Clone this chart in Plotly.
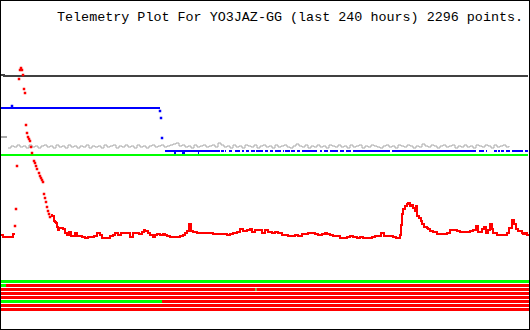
import plotly.graph_objects as go

# ---------------- data ----------------
TITLE = "Telemetry Plot For YO3JAZ-GG (last 240 hours) 2296 points."
N_BINS = 530          # time bins across the 240 h window

# dark-gray channel
dark_bin = [1, 3, 4, 528]
dark_val = [255, 255, 254, 254]

# blue channel: first level, transition samples, then patchy lower level
blue_hi_bin = [1, 160]
blue_hi_val = [222, 222]
blue_pts_bin = [12, 160, 161, 162]
blue_pts_val = [224, 219, 212, 192]
blue_lo_val = 179
blue_lo_segments = [(165, 220), (221, 224), (225, 226), (229, 232), (235, 240), (242, 244),
                    (246, 249), (251, 255), (256, 263), (265, 268), (270, 273), (275, 281),
                    (283, 284), (285, 290), (291, 295), (297, 300), (302, 317), (320, 322),
                    (324, 328), (330, 338), (340, 344), (346, 351), (353, 390), (392, 476),
                    (479, 484), (486, 487), (494, 497), (498, 500), (501, 504), (506, 510),
                    (512, 523), (525, 528)]
blue_dip_val = 177
blue_dip_segments = [(174, 176), (182, 185), (198, 199)]

# gray channel
gray_start_bin = [1, 7]
gray_start_val = [193, 193]
gray_bin = list(range(8, 529, 3))
gray_val = [182, 184, 183, 185, 183, 184, 182, 185, 183, 184,
            182, 184, 185, 183, 184, 182, 185, 183, 184, 182,
            185, 183, 184, 182, 184, 183, 185, 182, 184, 183,
            184, 182, 185, 183, 184, 185, 182, 184, 183, 185,
            183, 184, 182, 185, 183, 184, 182, 184, 185, 183,
            184, 185, 183, 184, 185, 186, 187, 184, 185, 183,
            184, 182, 185, 183, 184, 185, 183, 184, 185, 183,
            187, 185, 183, 184, 182, 185, 183, 184, 182, 185,
            184, 183, 185, 182, 184, 185, 183, 184, 182, 185,
            183, 184, 185, 183, 182, 184, 186, 184, 183, 185,
            182, 184, 183, 185, 183, 184, 182, 185, 184, 183,
            185, 183, 184, 182, 185, 183, 184, 185, 182, 184,
            183, 185, 184, 183, 182, 184, 185, 183, 184, 182,
            185, 184, 183, 185, 184, 182, 184, 183, 186, 184,
            183, 185, 184, 182, 184, 185, 183, 184, 185, 182,
            184, 183, 185, 183, 184, 182, 185, 184, 183, 185,
            184, 182, 185, 183, 184, 185, 183, 184]

# green channel
green_bin = [1, 528]
green_val = [175, 175]

# red channel: early flat part, sparse spike samples, continuous remainder
red_a_bin = [1, 3, 6, 9, 12, 13, 14]
red_a_val = [95, 93, 93, 93, 93, 96, 95]
red_spike_bin = [15, 16, 17, 19, 20, 21, 22, 23, 24, 25, 26, 27, 28, 29, 30, 31, 32, 34, 35,
                 36, 37, 39, 40, 41, 42, 43, 44, 45, 46, 47, 48, 49, 50]
red_spike_val = [104, 121, 164, 251, 260, 262, 260, 255, 241, 237, 205, 197, 193, 191, 189,
                 183, 177, 169, 167, 164, 161, 157, 154, 152, 150, 148, 136, 132, 128, 123,
                 119, 116, 113]
red_b_bin = [51, 52, 54, 55, 56, 57, 58, 59, 61, 63, 65, 67, 69, 71, 73, 75, 77, 80, 82, 85,
             88, 91, 94, 97, 100, 102, 105, 107, 110, 113, 115, 118, 121, 124, 127, 130, 133,
             136, 139, 142, 144, 145, 148, 150, 153, 155, 157, 160, 163, 165, 167, 170, 173,
             176, 178, 180, 183, 185, 187, 189, 191, 193, 197, 200, 203, 207, 210, 213, 218,
             223, 227, 230, 233, 237, 240, 243, 247, 250, 252, 255, 258, 262, 265, 268, 272,
             275, 278, 282, 285, 288, 292, 295, 298, 302, 305, 308, 312, 315, 318, 322, 325,
             327, 330, 333, 337, 340, 343, 347, 350, 353, 357, 360, 363, 366, 369, 372, 375,
             378, 381, 384, 387, 390, 393, 396, 398, 400, 401, 402, 403, 405, 407, 408, 410,
             412, 413, 415, 416, 417, 419, 421, 422, 424, 427, 428, 430, 433, 437, 440, 443,
             447, 450, 453, 457, 460, 463, 467, 470, 473, 476, 478, 482, 484, 486, 488, 490,
             492, 493, 497, 500, 503, 507, 509, 512, 514, 516, 518, 522, 523, 525, 527, 528]
red_b_val = [115, 114, 109, 108, 107, 103, 100, 102, 102, 101, 97, 95, 98, 94, 94, 97, 94, 94,
             93, 92, 93, 93, 94, 97, 95, 92, 92, 92, 94, 95, 97, 95, 97, 97, 97, 93, 97, 97,
             96, 98, 100, 99, 97, 95, 93, 95, 96, 95, 96, 95, 94, 93, 93, 93, 93, 94, 95, 97,
             99, 106, 99, 98, 97, 97, 97, 97, 97, 96, 96, 96, 95, 96, 97, 98, 101, 99, 100,
             101, 98, 100, 100, 97, 100, 98, 97, 98, 97, 95, 95, 94, 94, 95, 94, 96, 96, 97,
             97, 96, 95, 96, 97, 96, 95, 94, 94, 92, 92, 93, 94, 93, 92, 93, 92, 92, 92, 93,
             94, 94, 97, 94, 94, 94, 93, 92, 92, 95, 105, 116, 121, 124, 126, 127, 124, 125,
             122, 119, 124, 114, 112, 109, 106, 103, 102, 101, 99, 98, 96, 96, 96, 97, 100,
             100, 99, 98, 98, 98, 99, 100, 104, 98, 101, 103, 97, 100, 106, 101, 97, 95, 95,
             95, 97, 102, 110, 106, 101, 99, 97, 96, 97, 95, 94]

# digital bits: per row, segments (start_bin, end_bin, state)
bit_rows = [
    [(1, 529, 1)],
    [(1, 6, 1), (6, 529, 0)],
    [(1, 255.5, 0), (255.5, 256.5, 1), (256.5, 529, 0)],
    [(1, 529, 0)],
    [(1, 529, 0)],
    [(1, 162, 1), (162, 529, 0)],
    [(1, 529, 0)],
    [(1, 529, 0)],
]
bit_top_val = 48.5
bit_pitch = 4

# ---------------- figure ----------------
RED, GREEN, BLUE, GRAY, DARK = "#ff0000", "#00ff00", "#0000ff", "#aaaaaa", "#404040"

fig = go.Figure()

def seg_xy(segs, val):
    xs, ys = [], []
    for a, b in segs:
        xs += [a, b, None]
        ys += [val, val, None]
    return xs, ys

# bits
for k, row in enumerate(bit_rows):
    yv = bit_top_val - bit_pitch * k
    for a, b, s in row:
        fig.add_trace(go.Scatter(x=[a, b], y=[yv, yv], mode="lines",
                                 line=dict(color=GREEN if s else RED, width=3)))

fig.add_trace(go.Scatter(x=dark_bin, y=dark_val, mode="lines",
                         line=dict(color=DARK, width=2, shape="hv")))
fig.add_trace(go.Scatter(x=gray_start_bin, y=gray_start_val, mode="lines",
                         line=dict(color=GRAY, width=2)))
fig.add_trace(go.Scatter(x=gray_bin, y=gray_val, mode="lines",
                         line=dict(color=GRAY, width=1, shape="hv")))
fig.add_trace(go.Scatter(x=green_bin, y=green_val, mode="lines",
                         line=dict(color=GREEN, width=2)))
fig.add_trace(go.Scatter(x=blue_hi_bin, y=blue_hi_val, mode="lines",
                         line=dict(color=BLUE, width=2)))
bx, by = seg_xy(blue_lo_segments, blue_lo_val)
fig.add_trace(go.Scatter(x=bx, y=by, mode="lines", line=dict(color=BLUE, width=2)))
dx, dy = seg_xy(blue_dip_segments, blue_dip_val)
fig.add_trace(go.Scatter(x=dx, y=dy, mode="lines", line=dict(color=BLUE, width=2)))
fig.add_trace(go.Scatter(x=blue_pts_bin, y=blue_pts_val, mode="markers",
                         marker=dict(color=BLUE, size=2.5, symbol="square", line=dict(width=0))))

fig.add_trace(go.Scatter(x=red_a_bin, y=red_a_val, mode="lines",
                         line=dict(color=RED, width=2, shape="hv")))
fig.add_trace(go.Scatter(x=red_spike_bin, y=red_spike_val, mode="markers",
                         marker=dict(color=RED, size=2.5, symbol="square", line=dict(width=0))))
fig.add_trace(go.Scatter(x=red_b_bin, y=red_b_val, mode="lines",
                         line=dict(color=RED, width=2, shape="hv")))

fig.update_layout(
    width=530, height=330,
    margin=dict(l=0, r=0, t=0, b=0),
    paper_bgcolor="white", plot_bgcolor="white",
    showlegend=False,
    xaxis=dict(range=[0, N_BINS], visible=False, fixedrange=True),
    yaxis=dict(range=[0, 330], visible=False, fixedrange=True),
    shapes=[dict(type="rect", xref="paper", yref="paper", x0=0, x1=1, y0=0, y1=1,
                 line=dict(color="black", width=2))],
    annotations=[dict(text=TITLE, xref="paper", yref="paper", x=525 / 530, y=1 - 17 / 330,
                      xanchor="right", yanchor="middle", showarrow=False,
                      font=dict(family="Liberation Mono", size=13.4, color="black"))],
)

fig.write_html("out.html", config={"displayModeBar": False})
